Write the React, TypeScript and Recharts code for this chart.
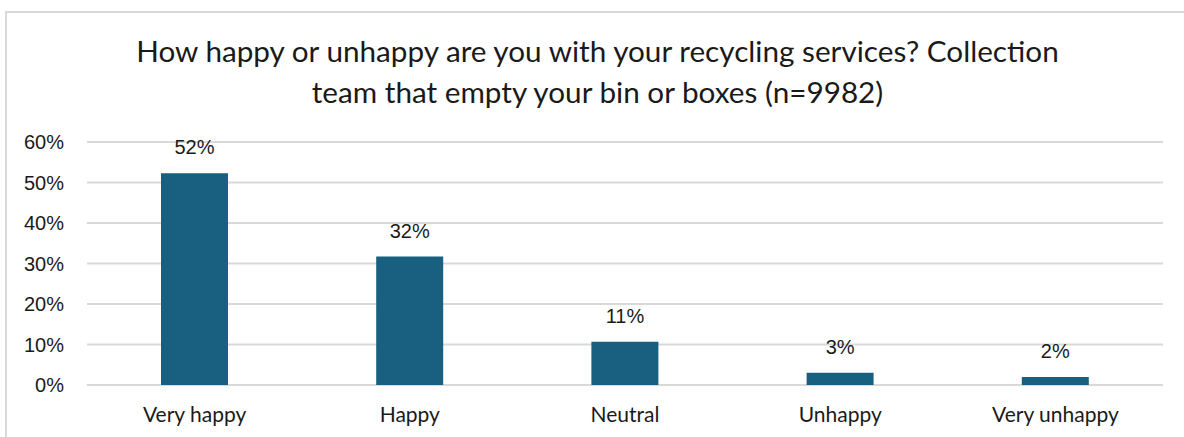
import { BarChart, Bar, XAxis, YAxis, CartesianGrid, LabelList } from 'recharts';

const categories = ['Very happy', 'Happy', 'Neutral', 'Unhappy', 'Very unhappy'];
const shares = [0.523, 0.317, 0.107, 0.03, 0.02];
const yTicks = [0, 0.1, 0.2, 0.3, 0.4, 0.5, 0.6];
const titleLines = [
    'How happy or unhappy are you with your recycling services? Collection',
    'team that empty your bin or boxes (n=9982)',
];

const data = categories.map((name, i) => ({ name, value: shares[i] }));

const pct = (v: number) => `${Math.round(v * 100)}%`;

const App = () => {
    return (
        <div style={{ position: 'absolute', left: 0, top: 0, width: 1184, height: 437, background: '#fff', overflow: 'hidden' }}>
            <div
                style={{
                    position: 'absolute',
                    left: 5,
                    top: 11,
                    width: 1200,
                    height: 450,
                    borderLeft: '2px solid #d9d9d9',
                    borderTop: '2px solid #d9d9d9',
                }}
            />
            <div
                style={{
                    position: 'absolute',
                    left: 0,
                    top: 30,
                    width: 1195,
                    textAlign: 'center',
                    fontFamily: 'Lato, "Open Sans", sans-serif',
                    fontSize: 29.7,
                    lineHeight: '41px',
                    color: '#1a1a1a',
                }}
            >
                {titleLines.map((t) => (
                    <div key={t}>{t}</div>
                ))}
            </div>
            <div style={{ position: 'absolute', left: 0, top: 0 }}>
                <BarChart
                    width={1184}
                    height={437}
                    data={data}
                    margin={{ top: 142, right: 21, bottom: 0, left: 0 }}
                >
                    <CartesianGrid vertical={false} stroke='#d9d9d9' strokeWidth={2} />
                    <XAxis
                        dataKey='name'
                        height={52}
                        axisLine={false}
                        tickLine={false}
                        tickSize={0}
                        tickMargin={22}
                        tick={{ fill: '#1a1a1a', fontSize: 21, fontFamily: 'Lato, sans-serif' }}
                    />
                    <YAxis
                        width={87}
                        domain={[0, 0.6]}
                        ticks={yTicks}
                        tickFormatter={pct}
                        axisLine={false}
                        tickLine={false}
                        tickSize={0}
                        tickMargin={23}
                        tick={{ fill: '#1a1a1a', fontSize: 20, fontFamily: '"Liberation Sans", Arial, sans-serif' }}
                    />
                    <Bar dataKey='value' fill='#185f80' barSize={67} isAnimationActive={false}>
                        <LabelList
                            dataKey='value'
                            position='top'
                            offset={19}
                            formatter={(v: any) => pct(Number(v))}
                            style={{ fill: '#1a1a1a', fontSize: 20, fontFamily: '"Liberation Sans", Arial, sans-serif' }}
                        />
                    </Bar>
                </BarChart>
            </div>
        </div>
    );
};

export default App;
